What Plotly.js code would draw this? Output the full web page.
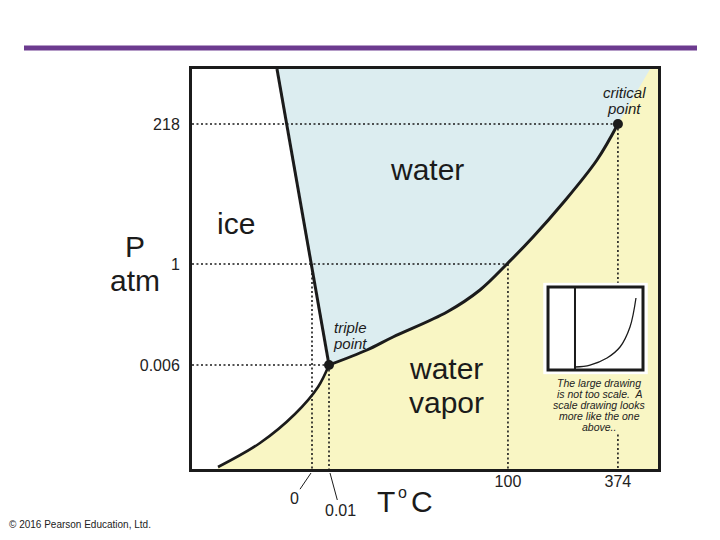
<!DOCTYPE html>
<html><head><meta charset="utf-8">
<script src="https://cdn.plot.ly/plotly-3.0.1.min.js"></script>
<style>html,body{margin:0;padding:0;background:#fff}</style>
</head><body><div id="chart" style="width:720px;height:540px"></div>
<script>
// Schematic (not to scale) phase diagram of water, drawn on 0-100 schematic axes
const tempTickLabels = ['0', '0.01', '100', '374'];
const tempTickPos = [25.75, 29.4, 67.8, 91.4];
const presTickLabels = ['0.006', '1', '218'];
const presTickPos = [26.0, 51.25, 86.25];

const fusionX = [29.4, 18.24];
const fusionY = [26.0, 100];
const sublimX = [5.58, 14.59, 22.1, 27.04, 29.4];
const sublimY = [0.5, 6.5, 13.75, 20.5, 26.0];
const vaporX = [29.4, 37.55, 43.13, 54.72, 61.8, 67.8, 73.18, 79.6, 86.9, 91.4];
const vaporY = [26.0, 29.75, 33.0, 39.25, 44.75, 51.5, 58.0, 66.5, 77.25, 86.25];
const supercritX = [91.4, 98.3];
const supercritY = [86.25, 100];
const pointX = [29.4, 91.4];
const pointY = [26.0, 86.25];

const insetLineX = [28.4, 28.4];
const insetLineY = [0, 100];
const insetCurveX = [28.4, 44.2, 62.1, 75.8, 86.3, 92.6];
const insetCurveY = [3.6, 6, 14.5, 27.7, 51.8, 86.7];

const insetNote = ['The large drawing', 'is not too scale.&nbsp; A', 'scale drawing looks', 'more like the one', 'above..'];

const FONT = 'Liberation Sans, Arial, sans-serif';
const INK = '#1b1b1b';
const BLUE = '#dcedf0';
const YELLOW = '#f9f6c4';

// helpers: page pixel -> paper fraction (for label placement)
const PX = px => (px - 192) / 466;
const PY = py => (469 - py) / 400;

// filled regions built from the curves
const yellowX = [sublimX[0]].concat(sublimX, vaporX.slice(1), supercritX.slice(1), [100, 100, sublimX[0]]);
const yellowY = [0].concat(sublimY, vaporY.slice(1), supercritY.slice(1), [100, 0, 0]);
const blueX = [fusionX[1], fusionX[0]].concat(vaporX.slice(1), supercritX.slice(1), [fusionX[1]]);
const blueY = [fusionY[1], fusionY[0]].concat(vaporY.slice(1), supercritY.slice(1), [fusionY[1]]);

// dotted guides
const guideX = [], guideY = [];
[[presTickPos[0], tempTickPos[1]], [presTickPos[1], tempTickPos[2]], [presTickPos[2], tempTickPos[3]]].forEach(([y, x]) => {
  guideX.push(0, x, null); guideY.push(y, y, null);
});
[[tempTickPos[0], presTickPos[1]], [tempTickPos[1], presTickPos[0]], [tempTickPos[2], presTickPos[1]], [tempTickPos[3], presTickPos[2]]].forEach(([x, y]) => {
  guideX.push(x, x, null); guideY.push(y, 0, null);
});

const traces = [
  {x: yellowX, y: yellowY, type: 'scatter', mode: 'lines', fill: 'toself', fillcolor: YELLOW, line: {width: 0, color: YELLOW, shape: 'spline', smoothing: 0.6}, hoverinfo: 'skip'},
  {x: blueX, y: blueY, type: 'scatter', mode: 'lines', fill: 'toself', fillcolor: BLUE, line: {width: 0, color: BLUE}, hoverinfo: 'skip'},
  {x: guideX, y: guideY, type: 'scatter', mode: 'lines', line: {color: INK, width: 1.6, dash: '2px,2.5px'}, connectgaps: false, hoverinfo: 'skip'},
  {x: fusionX, y: fusionY, type: 'scatter', mode: 'lines', line: {color: INK, width: 3}},
  {x: sublimX, y: sublimY, type: 'scatter', mode: 'lines', line: {color: INK, width: 2.6, shape: 'spline'}},
  {x: vaporX, y: vaporY, type: 'scatter', mode: 'lines', line: {color: INK, width: 3, shape: 'spline'}},
  {x: pointX, y: pointY, type: 'scatter', mode: 'markers', marker: {color: INK, size: 10}},
  {x: insetLineX, y: insetLineY, xaxis: 'x2', yaxis: 'y2', type: 'scatter', mode: 'lines', line: {color: INK, width: 2}},
  {x: insetCurveX, y: insetCurveY, xaxis: 'x2', yaxis: 'y2', type: 'scatter', mode: 'lines', line: {color: INK, width: 1.3, shape: 'spline'}}
];

const ann = (px, py, text, size, extra) => Object.assign({
  x: PX(px), y: PY(py), xref: 'paper', yref: 'paper', text: text, showarrow: false,
  font: {family: FONT, size: size, color: INK}, xanchor: 'center', yanchor: 'middle'
}, extra || {});

const annotations = [
  ann(427, 170, 'water', 30),
  ann(236, 223, 'ice', 30),
  ann(446, 368, 'water', 30),
  ann(446, 402, 'vapor', 30),
  ann(350, 327, '<i>triple</i>', 15),
  ann(350, 343, '<i>point</i>', 15),
  ann(624, 92, '<i>critical</i>', 15),
  ann(624, 108, '<i>point</i>', 15),
  ann(135, 246, 'P', 30),
  ann(135, 280, 'atm', 30),
  ann(386, 501, 'T', 30),
  ann(402, 492, 'o', 16),
  ann(422, 501, 'C', 30),
  ann(7, 524, '© 2016 Pearson Education, Ltd.', 10, {xanchor: 'left', font: {family: FONT, size: 10, color: '#222'}}),
  ann(311, 473, tempTickLabels[0], 16, {showarrow: true, arrowhead: 0, arrowwidth: 1, arrowcolor: INK,
   ax: -17, ay: 25, standoff: 0, font: {family: FONT, size: 16, color: '#222'}}),
  ann(330, 473, tempTickLabels[1], 16, {showarrow: true, arrowhead: 0, arrowwidth: 1, arrowcolor: INK,
   ax: 10, ay: 37, standoff: 0, font: {family: FONT, size: 16, color: '#222'}})
];
insetNote.forEach((t, i) => {
  annotations.push(ann(599, [382.5, 393.5, 404.5, 415.5, 426.5][i], '<i>' + t + '</i>', 10.5,
    {borderpad: 0, font: {family: FONT, size: 10.5, color: '#222'}}));
});

const layout = {
  width: 720, height: 540,
  margin: {l: 192, r: 62, t: 69, b: 71},
  paper_bgcolor: '#ffffff', plot_bgcolor: '#ffffff',
  showlegend: false,
  font: {family: FONT, color: '#222'},
  xaxis: {range: [0, 100], showgrid: false, zeroline: false, showline: true, mirror: true, linewidth: 3, linecolor: INK,
          tickvals: tempTickPos.slice(2), ticktext: tempTickLabels.slice(2), ticks: '', ticklabelstandoff: -4,
          tickfont: {family: FONT, size: 16, color: '#222'}, fixedrange: true},
  yaxis: {range: [0, 100], showgrid: false, zeroline: false, showline: true, mirror: true, linewidth: 3, linecolor: INK,
          tickvals: presTickPos, ticktext: presTickLabels, ticks: 'outside', ticklen: 6, tickcolor: 'rgba(0,0,0,0)',
          tickfont: {family: FONT, size: 16, color: '#222'}, fixedrange: true},
  xaxis2: {domain: [0.7538, 0.978], range: [-5, 105], anchor: 'y2', visible: false, fixedrange: true},
  yaxis2: {domain: [0.2371, 0.4654], range: [-5, 105], anchor: 'x2', visible: false, fixedrange: true},
  shapes: [
    {type: 'rect', xref: 'x2', yref: 'y2', x0: 0, x1: 100, y0: 0, y1: 100, fillcolor: '#ffffff', line: {color: INK, width: 3}, layer: 'below'},
    {type: 'rect', xref: 'paper', yref: 'paper', x0: PX(556), x1: PX(642), y0: PY(432), y1: PY(375), fillcolor: YELLOW, line: {width: 0}, layer: 'above'},
    {type: 'line', xref: 'paper', yref: 'paper', x0: PX(24), x1: PX(697), y0: PY(48), y1: PY(48),
     line: {color: '#6c3b8f', width: 5}}
  ],
  annotations: annotations
};

Plotly.newPlot('chart', traces, layout, {staticPlot: true, displayModeBar: false});
</script>
</body></html>
